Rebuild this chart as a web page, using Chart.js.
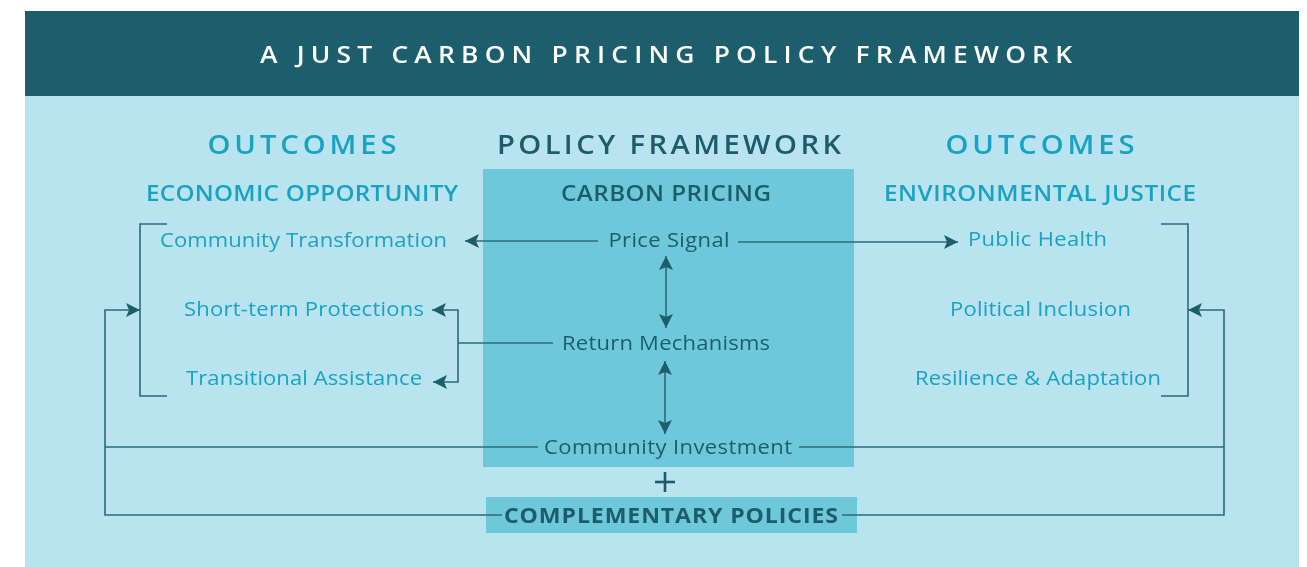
<!DOCTYPE html>
<html>
<head>
<meta charset="utf-8">
<script src="https://cdn.jsdelivr.net/npm/chart.js@4.4.1/dist/chart.umd.min.js"></script>
<style>
  html,body{margin:0;padding:0;background:#ffffff;}
  #wrap{width:1307px;height:567px;}
</style>
</head>
<body>
<div id="wrap"><canvas id="c" width="1307" height="567"></canvas></div>
<script>
// ---------- content ----------
const title = 'A JUST CARBON PRICING POLICY FRAMEWORK';
const columnHeads = ['OUTCOMES', 'POLICY FRAMEWORK', 'OUTCOMES'];
const columnSubheads = ['ECONOMIC OPPORTUNITY', 'CARBON PRICING', 'ENVIRONMENTAL JUSTICE'];
const economicItems = ['Community Transformation', 'Short-term Protections', 'Transitional Assistance'];
const policyItems = ['Price Signal', 'Return Mechanisms', 'Community Investment'];
const environmentalItems = ['Public Health', 'Political Inclusion', 'Resilience & Adaptation'];
const complementaryLabel = 'COMPLEMENTARY POLICIES';

// ---------- layout (diagram units, mapped through the chart's scales) ----------
const layout = {
  frame: {x0: 25, x1: 1299, y0: 11, yHead: 96, y1: 567},
  centerBox: {x0: 483, x1: 854, y0: 169, y1: 467},
  compBox: {x0: 486, x1: 857, y0: 497, y1: 533},
  colX: [302, 669, 1040],
  headY: 154, subY: 201, titleY: 63, titleX: 666,
  econItemX: [303.5, 304, 304], econItemY: [247, 316, 385],
  policyItemX: [669, 666, 668], policyItemY: [247, 350, 454],
  envItemX: [1037.5, 1040.5, 1038], envItemY: [246, 316, 385],
  compX: 671, compY: 523
};
const widths = {
  title: 812, heads: [189, 344, 189], subs: [312, 210, 312],
  econ: [287, 240, 236], policy: [121, 208, 248], env: [139, 181, 246], comp: 334
};

// connector polylines: points, arrow at start / end
const connectors = [
  {pts: [[598, 241], [465, 241]], end: true},
  {pts: [[738, 242], [958, 242]], end: true},
  {pts: [[666, 256], [666, 328]], start: true, end: true},
  {pts: [[665, 361], [665, 434]], start: true, end: true},
  {pts: [[553, 343], [458, 343]]},
  {pts: [[432, 310], [458, 310], [458, 382], [433, 382]], start: true, end: true},
  {pts: [[167, 224], [140, 224], [140, 396], [167, 396]]},
  {pts: [[1161, 224], [1188, 224], [1188, 396], [1161, 396]]},
  {pts: [[538, 447], [105, 447]]},
  {pts: [[502, 515], [105, 515], [105, 310], [140, 310]], end: true},
  {pts: [[799, 447], [1224, 447]]},
  {pts: [[842, 515], [1224, 515], [1224, 310], [1188, 310]], end: true},
  // plus sign
  {pts: [[655, 482], [675, 482]], w: 2.6},
  {pts: [[665, 472], [665, 492]], w: 2.6}
];

// ---------- colours ----------
const C = {
  head: '#1c5e6b', bg: '#b9e3ef', box: '#6dc8da', teal: '#18a3c3',
  dark: '#1d5d6b', line: '#2b6c79', arrow: '#1d5e6b', white: '#ffffff'
};
const FONT = '"Open Sans", "Noto Sans", sans-serif';
const ARROW_HALF = 9;   // half of arrowhead image size
const ARROW_INSET = 2;

// stealth-style arrowhead image pointing up, tip at top centre
function makeArrowImage() {
  const s = ARROW_HALF * 2;
  const cv = document.createElement('canvas');
  cv.width = s; cv.height = s;
  const g = cv.getContext('2d');
  g.fillStyle = C.arrow;
  g.beginPath();
  g.moveTo(s / 2, ARROW_INSET);
  g.lineTo(s - ARROW_INSET, s - ARROW_INSET);
  g.lineTo(s / 2, s - ARROW_INSET - 3);
  g.lineTo(ARROW_INSET, s - ARROW_INSET);
  g.closePath();
  g.fill();
  return cv;
}
const arrowImg = makeArrowImage();

// ---------- datasets ----------
const datasets = connectors.map(c => ({
  type: 'scatter',
  data: c.pts.map(p => ({x: p[0], y: p[1]})),
  showLine: true,
  borderColor: c.w ? C.dark : C.line,
  borderWidth: c.w || 1.6,
  pointRadius: 0,
  fill: false,
  tension: 0,
  order: 2
}));

const arrowPts = [], arrowRot = [];
function addArrow(tip, prev) {
  const dx = tip[0] - prev[0], dy = tip[1] - prev[1];
  const len = Math.hypot(dx, dy);
  const ux = dx / len, uy = dy / len;
  const back = ARROW_HALF - ARROW_INSET;
  arrowPts.push({x: tip[0] - ux * back, y: tip[1] - uy * back});
  arrowRot.push(Math.atan2(ux, -uy) * 180 / Math.PI);
}
connectors.forEach(c => {
  const n = c.pts.length;
  if (c.end) addArrow(c.pts[n - 1], c.pts[n - 2]);
  if (c.start) addArrow(c.pts[0], c.pts[1]);
});
datasets.push({
  type: 'scatter',
  data: arrowPts,
  pointStyle: arrowImg,
  pointRadius: ARROW_HALF,
  pointRotation: arrowRot,
  order: 1
});

// ---------- drawing helpers ----------
function fitText(ctx, text, cx, cy, font, color, target) {
  ctx.save();
  ctx.font = font;
  ctx.letterSpacing = '0px';
  const w = ctx.measureText(text).width;
  const n = text.length;
  let sx = Math.max(0.92, Math.min(1.1, target / w));
  let s = n > 1 ? (target / sx - w) / (n - 1) : 0;
  ctx.letterSpacing = s + 'px';
  ctx.fillStyle = color;
  ctx.textAlign = 'left';
  ctx.textBaseline = 'alphabetic';
  ctx.translate(cx - target / 2, cy);
  ctx.scale(sx, 1);
  ctx.fillText(text, 0, 0);
  ctx.restore();
}

const diagramPlugin = {
  id: 'diagram',
  beforeDatasetsDraw(chart) {
    const {ctx, scales: {x, y}} = chart;
    const rect = (b, col) => {
      const px0 = x.getPixelForValue(b.x0), px1 = x.getPixelForValue(b.x1);
      const py0 = y.getPixelForValue(b.y0), py1 = y.getPixelForValue(b.y1);
      ctx.fillStyle = col;
      ctx.fillRect(px0, py0, px1 - px0, py1 - py0);
    };
    const f = layout.frame;
    ctx.save();
    rect({x0: f.x0, x1: f.x1, y0: f.yHead, y1: f.y1}, C.bg);
    rect({x0: f.x0, x1: f.x1, y0: f.y0, y1: f.yHead}, C.head);
    rect(layout.centerBox, C.box);
    rect(layout.compBox, C.box);
    ctx.restore();
  },
  afterDatasetsDraw(chart) {
    const {ctx, scales: {x, y}} = chart;
    const X = v => x.getPixelForValue(v), Y = v => y.getPixelForValue(v);
    fitText(ctx, title, X(layout.titleX), Y(layout.titleY), '600 24px ' + FONT, C.white, widths.title);
    columnHeads.forEach((t, i) => fitText(ctx, t, X(layout.colX[i]), Y(layout.headY),
      '600 26.5px ' + FONT, i === 1 ? C.dark : C.teal, widths.heads[i]));
    columnSubheads.forEach((t, i) => fitText(ctx, t, X(layout.colX[i] + (i === 1 ? -3 : 0)), Y(layout.subY),
      '600 22px ' + FONT, i === 1 ? C.dark : C.teal, widths.subs[i]));
    economicItems.forEach((t, i) => fitText(ctx, t, X(layout.econItemX[i]), Y(layout.econItemY[i]),
      '500 20px ' + FONT, C.teal, widths.econ[i]));
    policyItems.forEach((t, i) => fitText(ctx, t, X(layout.policyItemX[i]), Y(layout.policyItemY[i]),
      '500 20px ' + FONT, C.dark, widths.policy[i]));
    environmentalItems.forEach((t, i) => fitText(ctx, t, X(layout.envItemX[i]), Y(layout.envItemY[i]),
      '500 20px ' + FONT, C.teal, widths.env[i]));
    fitText(ctx, complementaryLabel, X(layout.compX), Y(layout.compY), '700 21px ' + FONT, C.dark, widths.comp);
  }
};

new Chart(document.getElementById('c'), {
  type: 'scatter',
  data: {datasets},
  options: {
    responsive: false,
    animation: false,
    devicePixelRatio: 1,
    layout: {padding: 0, autoPadding: false},
    events: [],
    plugins: {legend: {display: false}, tooltip: {enabled: false}, title: {display: false}},
    scales: {
      x: {type: 'linear', min: 0, max: 1307, display: false},
      y: {type: 'linear', min: 0, max: 567, reverse: true, display: false}
    }
  },
  plugins: [diagramPlugin]
});
</script>
</body>
</html>
